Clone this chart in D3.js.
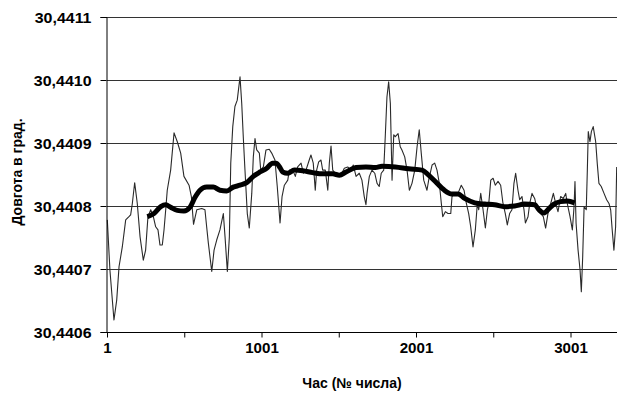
<!DOCTYPE html>
<html><head><meta charset="utf-8">
<script src="https://cdn.jsdelivr.net/npm/d3@7/dist/d3.min.js"></script>
<style>
html,body{margin:0;padding:0;background:#fff;overflow:hidden;}
text{font-family:"Liberation Sans",Arial,sans-serif;font-weight:bold;fill:#000;}
</style></head>
<body>
<svg id="chart" width="617" height="396"></svg>
<script>
// Hourly series (thin line): hour index and longitude value
const hours = [3,20,46,64,79,100,122,143,154,165,180,197,215,236,251,266,284,301,316,331,344,359,370,381,391,413,435,456,478,499,532,547,561,582,614,635,646,657,679,694,711,732,754,765,780,793,802,815,829,844,862,873,883,894,909,922,938,948,959,970,987,996,1013,1030,1051,1067,1088,1103,1121,1134,1149,1171,1181,1203,1220,1235,1257,1272,1289,1310,1321,1336,1349,1358,1371,1386,1397,1414,1430,1440,1451,1462,1479,1494,1515,1537,1559,1580,1595,1613,1634,1651,1666,1677,1684,1699,1716,1734,1749,1763,1776,1792,1802,1813,1824,1835,1846,1857,1867,1885,1899,1910,1928,1943,1958,1975,1993,2008,2022,2035,2051,2072,2083,2105,2122,2137,2152,2165,2174,2191,2208,2226,2234,2251,2273,2294,2312,2327,2342,2355,2370,2385,2398,2407,2420,2435,2450,2463,2472,2485,2500,2514,2532,2549,2564,2579,2592,2607,2622,2635,2646,2661,2672,2687,2700,2709,2726,2737,2752,2769,2786,2808,2825,2840,2855,2873,2890,2905,2920,2937,2954,2970,2980,2998,3013,3024,3030,3037,3050,3063,3071,3080,3089,3103,3110,3116,3127,3136,3148,3164,3174,3185,3200,3218,3235,3250,3261,3271,3282,3293,3300];
const longitude = [30.440778,30.440698,30.440619,30.440651,30.440704,30.440735,30.440778,30.440783,30.440786,30.440804,30.440837,30.440804,30.440751,30.440714,30.440730,30.440783,30.440794,30.440783,30.440767,30.440762,30.440738,30.440738,30.440762,30.440794,30.440825,30.440857,30.440916,30.440902,30.440884,30.440847,30.440833,30.440815,30.440771,30.440794,30.440796,30.440794,30.440767,30.440741,30.440696,30.440730,30.440746,30.440762,30.440788,30.440751,30.440696,30.440751,30.440868,30.440926,30.440958,30.440968,30.441005,30.440963,30.440910,30.440857,30.440788,30.440765,30.440820,30.440878,30.440907,30.440889,30.440884,30.440857,30.440862,30.440889,30.440890,30.440884,30.440873,30.440831,30.440773,30.440815,30.440833,30.440841,30.440857,30.440857,30.440847,30.440862,30.440868,30.440852,30.440857,30.440873,30.440881,30.440868,30.440825,30.440857,30.440870,30.440873,30.440857,30.440857,30.440825,30.440868,30.440895,30.440857,30.440852,30.440852,30.440849,30.440860,30.440862,30.440857,30.440865,30.440847,30.440852,30.440841,30.440815,30.440802,30.440820,30.440847,30.440857,30.440852,30.440836,30.440831,30.440852,30.440857,30.440910,30.440973,30.440997,30.440963,30.440841,30.440913,30.440910,30.440915,30.440894,30.440889,30.440878,30.440857,30.440825,30.440836,30.440857,30.440894,30.440921,30.440884,30.440841,30.440825,30.440841,30.440865,30.440868,30.440857,30.440836,30.440804,30.440783,30.440791,30.440788,30.440788,30.440815,30.440820,30.440820,30.440833,30.440825,30.440804,30.440788,30.440767,30.440735,30.440762,30.440804,30.440794,30.440820,30.440794,30.440765,30.440794,30.440804,30.440841,30.440844,30.440833,30.440839,30.440833,30.440804,30.440788,30.440770,30.440788,30.440794,30.440836,30.440852,30.440825,30.440810,30.440815,30.440794,30.440773,30.440783,30.440804,30.440820,30.440812,30.440794,30.440788,30.440783,30.440765,30.440788,30.440804,30.440820,30.440804,30.440791,30.440815,30.440812,30.440820,30.440804,30.440783,30.440762,30.440799,30.440839,30.440773,30.440730,30.440698,30.440664,30.440720,30.440799,30.440794,30.440857,30.440918,30.440902,30.440918,30.440926,30.440902,30.440868,30.440836,30.440831,30.440820,30.440810,30.440804,30.440794,30.440762,30.440730,30.440767,30.440862];
// Smoothed series (thick line)
const smoothHours = [262,305,349,381,413,456,499,538,571,603,646,689,732,776,818,862,905,948,991,1035,1073,1095,1121,1138,1171,1213,1268,1332,1397,1462,1505,1548,1613,1677,1738,1781,1867,1954,2040,2083,2126,2180,2234,2273,2316,2381,2446,2510,2575,2640,2704,2769,2797,2829,2862,2894,2937,2980,3028];
const smoothLongitude = [30.440783,30.440788,30.440799,30.440802,30.440798,30.440793,30.440792,30.440798,30.440814,30.440825,30.440830,30.440830,30.440825,30.440824,30.440830,30.440833,30.440837,30.440847,30.440854,30.440860,30.440868,30.440868,30.440861,30.440854,30.440852,30.440857,30.440856,30.440853,30.440851,30.440851,30.440849,30.440854,30.440861,30.440862,30.440861,30.440863,30.440862,30.440859,30.440857,30.440849,30.440839,30.440826,30.440819,30.440819,30.440812,30.440805,30.440803,30.440802,30.440799,30.440800,30.440803,30.440802,30.440794,30.440789,30.440796,30.440803,30.440807,30.440808,30.440805];
const yTicks = [30.4406,30.4407,30.4408,30.4409,30.4410,30.4411];
const xMajorTicks = [1,1001,2001,3001];
const xMinorTicks = [1,501,1001,1501,2001,2501,3001];
const xTitle = "Час (№ числа)";
const yTitle = "Довгота  в град.";

(function(){
const svg = d3.select("#chart");
const mLeft = 107, mRight = 617, mTop = 17, mBottom = 332;
const x = d3.scaleLinear().domain([1,3001]).range([mLeft, 570.5]);
const y = d3.scaleLinear().domain([30.4406,30.4411]).range([mBottom, mTop]);

// gridlines
svg.append("g").selectAll("line").data(yTicks.slice(1)).join("line")
  .attr("x1", mLeft).attr("x2", mRight)
  .attr("y1", d=>Math.round(y(d))+0.5).attr("y2", d=>Math.round(y(d))+0.5)
  .attr("stroke","#333").attr("stroke-width",1);

// thin line
const line = d3.line().x(d=>x(d[0])).y(d=>y(d[1]));
svg.append("path").datum(hours.map((h,i)=>[h,longitude[i]]))
  .attr("d", line).attr("fill","none").attr("stroke","#2a2a2a").attr("stroke-width",1.1)
  .attr("stroke-linejoin","round");
// thick line
const sline = d3.line().curve(d3.curveMonotoneX).x(d=>x(d[0])).y(d=>y(d[1]));
svg.append("path").datum(smoothHours.map((h,i)=>[h,smoothLongitude[i]]))
  .attr("d", sline).attr("fill","none").attr("stroke","#000").attr("stroke-width",5)
  .attr("stroke-linejoin","round").attr("stroke-linecap","butt");

// Y axis
const yAxis = d3.axisLeft(y).tickValues(yTicks).tickSize(6).tickPadding(9)
  .tickFormat(d=>d3.format(".4f")(d).replace(".",","));
const gy = svg.append("g").attr("transform",`translate(${mLeft-0.5},0)`).call(yAxis);
gy.select(".domain").attr("stroke","#000");
gy.selectAll(".tick line").attr("stroke","#000");
gy.selectAll("text").style("font-size","14px").attr("fill","#000").attr("dy","0.36em")
  .each(function(){ const w=this.getComputedTextLength(); d3.select(this).attr("textLength",w*1.14).attr("lengthAdjust","spacingAndGlyphs"); });

// X axis
const xAxis = d3.axisBottom(x).tickValues(xMinorTicks).tickSize(5).tickPadding(6)
  .tickFormat(d=>xMajorTicks.includes(d)?String(d):"");
const gx = svg.append("g").attr("transform",`translate(0,${mBottom+0.5})`).call(xAxis);
gx.select(".domain").attr("d",`M${mLeft-0.5},0H${mRight}`).attr("stroke","#000");
gx.selectAll(".tick line").attr("stroke","#000");
gx.selectAll("text").style("font-size","14px").attr("fill","#000")
  .each(function(){ const w=this.getComputedTextLength(); if(w>0) d3.select(this).attr("textLength",w*1.08).attr("lengthAdjust","spacingAndGlyphs"); });

// titles
svg.append("text").attr("x",352).attr("y",388).attr("text-anchor","middle")
  .style("font-size","14px").text(xTitle);
svg.append("text").attr("transform","translate(22,172) rotate(-90)").attr("text-anchor","middle")
  .style("font-size","14px").text(yTitle);
})();
</script>
</body></html>
